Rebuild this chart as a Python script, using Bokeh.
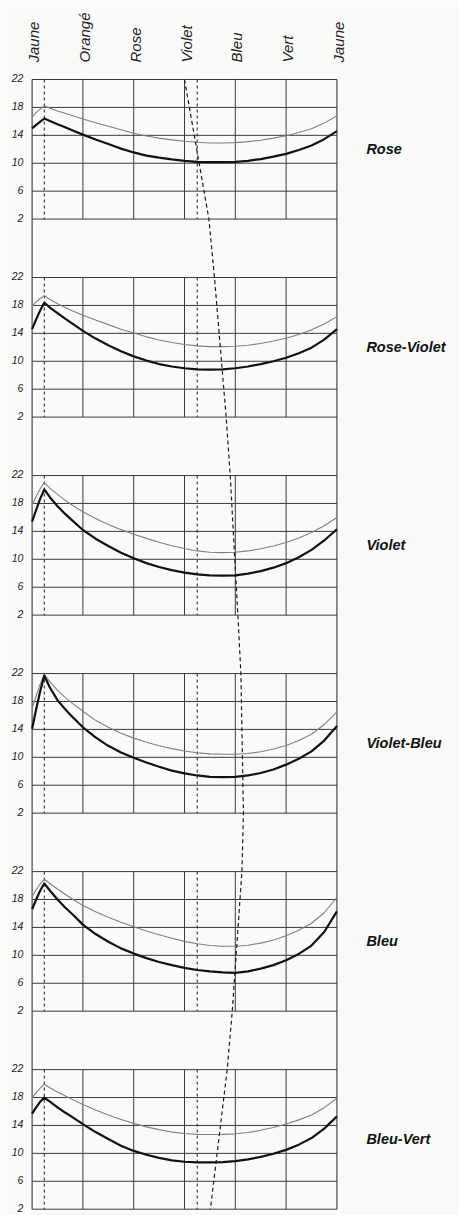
import math
from bokeh.plotting import figure
from bokeh.models import Range1d
from bokeh.core.properties import value
from bokeh.embed import file_html
from bokeh.resources import INLINE

# ---- data -----------------------------------------------------------------
hue_labels = ["Jaune", "Orangé", "Rose", "Violet", "Bleu", "Vert", "Jaune"]
hue_ticks = [0, 1, 2, 3, 4, 5, 6]
panel_names = ["Rose", "Rose-Violet", "Violet", "Violet-Bleu", "Bleu", "Bleu-Vert"]
y_ticks = [22, 18, 14, 10, 6, 2]

x_samples = [0, 0.08, 0.16, 0.24, 0.35, 0.5, 0.65, 0.8, 1, 1.25, 1.5, 1.75, 2, 2.25, 2.5,
             2.75, 3, 3.25, 3.5, 3.75, 4, 4.25, 4.5, 4.75, 5, 5.25, 5.5, 5.75, 6]

rose_dark = [15.0, 15.5, 15.95, 16.4, 16.05, 15.6, 15.15, 14.7, 14.1, 13.4, 12.75, 12.1, 11.55, 11.1, 10.8,
             10.55, 10.35, 10.2, 10.15, 10.15, 10.2, 10.35, 10.6, 10.95, 11.35, 11.9, 12.55, 13.45, 14.6]
rose_light = [16.6, 17.25, 17.75, 18.2, 17.9, 17.5, 17.15, 16.8, 16.35, 15.8, 15.3, 14.8, 14.3, 13.9, 13.6,
              13.35, 13.15, 13.0, 12.9, 12.9, 12.95, 13.1, 13.3, 13.6, 13.95, 14.4, 14.95, 15.75, 16.8]

rose_violet_dark = [14.6, 16.0, 17.3, 18.4, 17.7, 16.9, 16.1, 15.35, 14.35, 13.25, 12.3, 11.45, 10.7, 10.1, 9.6,
                    9.25, 9.0, 8.85, 8.8, 8.85, 9.0, 9.25, 9.6, 10.0, 10.5, 11.15, 11.95, 13.1, 14.6]
rose_violet_light = [17.9, 18.5, 19.0, 19.4, 18.85, 18.25, 17.7, 17.2, 16.6, 15.9, 15.25, 14.6, 14.05, 13.5, 13.05,
                     12.7, 12.4, 12.2, 12.1, 12.1, 12.15, 12.3, 12.55, 12.9, 13.3, 13.85, 14.5, 15.35, 16.4]

violet_dark = [15.4, 17.1, 18.7, 20.0, 18.9, 17.6, 16.5, 15.5, 14.2, 12.95, 11.9, 10.95, 10.15, 9.45, 8.9,
               8.45, 8.1, 7.85, 7.7, 7.65, 7.7, 7.95, 8.3, 8.8, 9.45, 10.3, 11.35, 12.7, 14.3]
violet_light = [17.8, 19.0, 20.1, 21.0, 20.2, 19.3, 18.45, 17.7, 16.8, 15.85, 15.0, 14.25, 13.6, 13.0, 12.45,
                11.95, 11.55, 11.2, 11.0, 10.95, 11.0, 11.2, 11.5, 11.9, 12.4, 13.05, 13.85, 14.8, 16.0]

violet_bleu_dark = [14.1, 16.9, 19.5, 21.7, 20.0, 18.2, 16.9, 15.75, 14.3, 12.85, 11.65, 10.7, 9.95, 9.25, 8.65,
                    8.1, 7.7, 7.4, 7.2, 7.15, 7.2, 7.4, 7.75, 8.25, 8.95, 9.8, 10.85, 12.4, 14.5]
violet_bleu_light = [17.0, 18.8, 20.5, 21.9, 20.8, 19.6, 18.6, 17.7, 16.6, 15.3, 14.3, 13.45, 12.75, 12.15, 11.65,
                     11.25, 10.9, 10.65, 10.5, 10.45, 10.45, 10.55, 10.8, 11.2, 11.7, 12.4, 13.3, 14.7, 16.5]

bleu_dark = [16.6, 18.0, 19.3, 20.3, 19.3, 18.0, 16.85, 15.85, 14.4, 13.05, 11.95, 11.0, 10.25, 9.6, 9.05,
             8.6, 8.2, 7.9, 7.7, 7.55, 7.5, 7.7, 8.1, 8.6, 9.3, 10.2, 11.4, 13.35, 16.3]
bleu_light = [18.4, 19.4, 20.25, 20.9, 20.3, 19.5, 18.75, 18.05, 17.15, 16.25, 15.45, 14.75, 14.1, 13.5, 12.95,
              12.45, 12.0, 11.65, 11.4, 11.3, 11.3, 11.45, 11.75, 12.2, 12.8, 13.6, 14.6, 16.1, 18.3]

bleu_vert_dark = [15.7, 16.6, 17.4, 18.0, 17.4, 16.6, 15.85, 15.15, 14.2, 13.05, 12.05, 11.1, 10.35, 9.8, 9.35,
                  9.0, 8.8, 8.7, 8.7, 8.75, 8.9, 9.15, 9.5, 9.95, 10.5, 11.25, 12.2, 13.55, 15.3]
bleu_vert_light = [17.95, 18.7, 19.35, 19.9, 19.4, 18.8, 18.25, 17.7, 17.0, 16.2, 15.5, 14.85, 14.3, 13.8, 13.4,
                   13.05, 12.85, 12.72, 12.7, 12.72, 12.8, 13.0, 13.3, 13.7, 14.2, 14.8, 15.5, 16.55, 17.9]

# dashed reference verticals (same in every panel)
mark_x = [0.24, 3.25]
# long dashed trace: where it crosses the top (22) and bottom (2) line of each panel
trace_x_top = [3.00, 3.59, 3.90, 4.11, 4.13, 3.84]
trace_x_bottom = [3.48, 3.82, 4.05, 4.16, 3.94, 3.51]

dark_series = [rose_dark, rose_violet_dark, violet_dark, violet_bleu_dark, bleu_dark, bleu_vert_dark]
light_series = [rose_light, rose_violet_light, violet_light, violet_bleu_light, bleu_light, bleu_vert_light]

# ---- layout -----------------------------------------------------------------
P = 28.375          # vertical period between stacked panels (in value units)
TOP, BOT = y_ticks[0], y_ticks[-1]
n = len(panel_names)
BG = "#fafaf9"
INK = "#1a1a1a"
GRID = "#3a3a3a"
FONT = "Liberation Sans"


def shift(v, k):
    return v - k * P


p = figure(width=459, height=1215, output_backend="svg", toolbar_location=None,
           x_range=Range1d(-0.622, 8.413),
           y_range=Range1d(shift(BOT, n - 1) - 0.903, TOP + 11.32),
           x_axis_location=None, y_axis_location=None,
           min_border_left=0, min_border_right=0, min_border_top=0, min_border_bottom=0,
           background_fill_color=BG, border_fill_color=BG, outline_line_color=None)
p.grid.visible = False

# hue names along the top, written upwards above each column line
p.text(x=hue_ticks, y=[TOP] * len(hue_ticks), text=hue_labels, angle=math.pi / 2,
       x_offset=1.5, y_offset=-17,
       text_font=value(FONT), text_font_style="italic", text_font_size="15px",
       text_align="left", text_baseline="alphabetic", text_color="#222222")

# value scale 22..2 repeated for each panel, sitting on its line
lab_y = [shift(v, k) for k in range(n) for v in y_ticks]
lab_t = [str(v) for k in range(n) for v in y_ticks]
p.text(x=[hue_ticks[0] - 0.17] * len(lab_y), y=lab_y, text=lab_t, y_offset=-1.5,
       text_font=value(FONT), text_font_style="italic", text_font_size="10.5px",
       text_align="right", text_baseline="alphabetic", text_color="#222222")

# grid: horizontal lines inside each panel
hx0, hx1, hy = [], [], []
for k in range(n):
    for v in y_ticks:
        hx0.append(hue_ticks[0]); hx1.append(hue_ticks[-1]); hy.append(shift(v, k))
p.segment(x0=hx0, y0=hy, x1=hx1, y1=hy, line_color=GRID, line_width=1)

# interior verticals per panel
vx, vy0, vy1 = [], [], []
for k in range(n):
    for t in hue_ticks[1:-1]:
        vx.append(t); vy0.append(shift(TOP, k)); vy1.append(shift(BOT, k))
p.segment(x0=vx, y0=vy0, x1=vx, y1=vy1, line_color=GRID, line_width=1)

# outer verticals run through the whole column
ox = [hue_ticks[0], hue_ticks[-1]]
p.segment(x0=ox, y0=[TOP, TOP], x1=ox, y1=[shift(BOT, n - 1)] * 2, line_color=GRID, line_width=1.1)

# dashed reference verticals in each panel
dx, dy0, dy1 = [], [], []
for k in range(n):
    for m in mark_x:
        dx.append(m); dy0.append(shift(TOP, k)); dy1.append(shift(BOT, k))
p.segment(x0=dx, y0=dy0, x1=dx, y1=dy1, line_color=INK, line_width=1, line_dash="3 3")

# curves
for k in range(n):
    p.line(x_samples, [shift(v, k) for v in light_series[k]], line_color="#808080", line_width=1.1,
           line_join="round")
    p.line(x_samples, [shift(v, k) for v in dark_series[k]], line_color="#111111", line_width=2.2,
           line_join="round")

# long dashed trace
tx, ty = [], []
for k in range(n):
    tx += [trace_x_top[k], trace_x_bottom[k]]
    ty += [shift(TOP, k), shift(BOT, k)]
p.line(tx, ty, line_color=INK, line_width=1.2, line_dash="4 3")

# panel names on the right
p.text(x=[6.58] * n, y=[shift(12, k) for k in range(n)], text=panel_names,
       text_font=value(FONT), text_font_style="bold italic", text_font_size="14.5px",
       text_baseline="middle", text_align="left", text_color="#111111")

open("out.html", "w").write(file_html(p, INLINE))
